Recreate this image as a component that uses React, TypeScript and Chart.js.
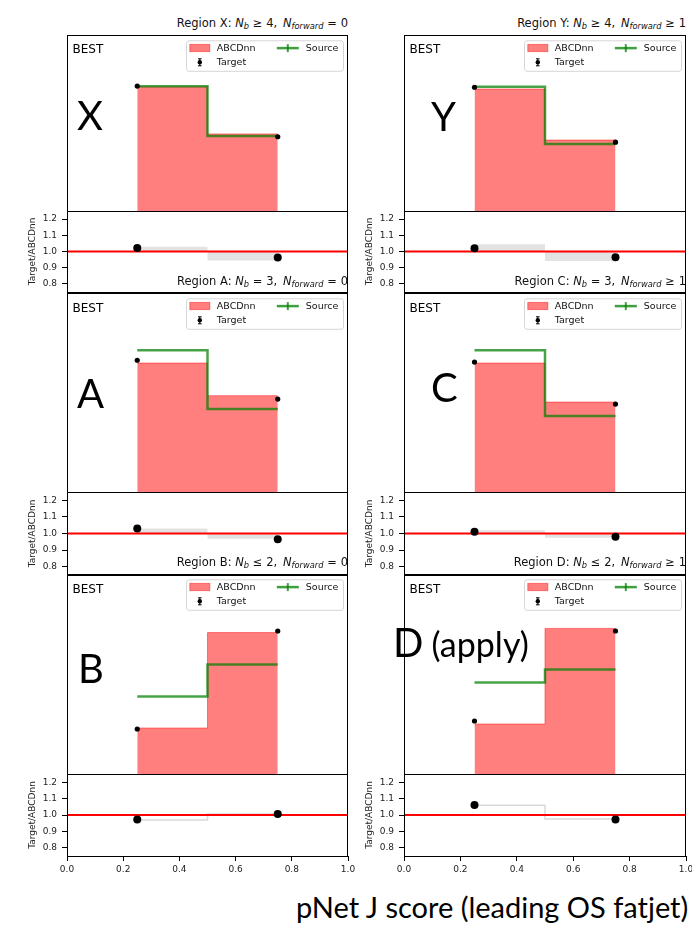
import React, { useEffect, useRef } from 'react';
import { Chart, registerables } from 'chart.js';

Chart.register(...registerables);
Chart.defaults.font.family = '"DejaVu Sans", sans-serif';
Chart.defaults.font.size = 9;

// ---------------- data ----------------
const binEdges = [0.25, 0.5, 0.75];
const pointX = [0.25, 0.75];
const regionLetters = ['X', 'Y', 'A', 'C', 'B', 'D'];
const nbOps = ['\u2265', '\u2265', '=', '=', '\u2264', '\u2264'];
const nbNums = ['4', '4', '3', '3', '2', '2'];
const nfOps = ['=', '\u2265', '=', '\u2265', '=', '\u2265'];
const nfNums = ['0', '1', '0', '1', '0', '1'];
const tagText = 'BEST';
const bigLabels = ['X', 'Y', 'A', 'C', 'B', 'D'];
const applyText = '(apply)';
const xAxisLabel = 'pNet J score (leading OS fatjet)';
const ratioTitle = 'Target/ABCDnn';

// main panel values (normalised to the panel's y range 0..1)
const abcdnnVals = [
  [0.706, 0.438],
  [0.693, 0.403],
  [0.648, 0.484],
  [0.648, 0.452],
  [0.23, 0.707],
  [0.25, 0.728],
];
const sourceVals = [
  [0.709, 0.426],
  [0.706, 0.381],
  [0.712, 0.417],
  [0.712, 0.382],
  [0.387, 0.548],
  [0.457, 0.523],
];
const targetVals = [
  [0.71, 0.422],
  [0.703, 0.391],
  [0.662, 0.467],
  [0.653, 0.442],
  [0.225, 0.715],
  [0.265, 0.715],
];
// ratio panel values
const ratioVals = [
  [1.021, 0.963],
  [1.02, 0.965],
  [1.03, 0.965],
  [1.01, 0.98],
  [0.973, 1.006],
  [1.061, 0.973],
];
const bandVals = [
  [1.03, 0.944],
  [1.045, 0.942],
  [1.03, 0.968],
  [1.02, 0.975],
  [0.969, 1.006],
  [1.059, 0.976],
];
const ratioTicks = [0.8, 0.9, 1.0, 1.1, 1.2];
const xTicks = [0, 0.2, 0.4, 0.6, 0.8, 1.0];

// ---------------- layout ----------------
const COLS = [
  { left: 67, width: 281 },
  { left: 404, width: 282 },
];
const ROWS = [
  { mainTop: 35, mainH: 176, ratioTop: 211, ratioH: 81 },
  { mainTop: 293, mainH: 199, ratioTop: 492, ratioH: 83 },
  { mainTop: 574, mainH: 200, ratioTop: 774, ratioH: 82 },
];
const BIG_POS = [
  { left: 77, base: 130 },
  { left: 431, base: 131 },
  { left: 77, base: 408 },
  { left: 431, base: 402 },
  { left: 78, base: 683 },
  { left: 393, base: 657 },
];

const stepPts = (v: number[]) => [
  { x: binEdges[0], y: v[0] },
  { x: binEdges[1], y: v[1] },
  { x: binEdges[2], y: v[1] },
];

const decorPlugin = {
  id: 'decor',
  afterDatasetsDraw(chart: any, _args: any, opts: any) {
    const { ctx, chartArea: a } = chart;
    ctx.save();
    if (opts && opts.main) {
      const h = a.bottom - a.top;
      ctx.fillStyle = '#000';
      ctx.textAlign = 'left';
      ctx.textBaseline = 'alphabetic';
      ctx.font = '12px "DejaVu Sans"';
      ctx.fillText(opts.tag, a.left + 5.5, a.top + 0.053 * h + 8.8);

      const ds = chart.data.datasets;
      const bw = 157;
      const bh = 30.5;
      const bx = a.right - 4.5 - bw;
      const by = a.top + 5.8;
      ctx.beginPath();
      ctx.roundRect(bx, by, bw, bh, 2.5);
      ctx.fillStyle = 'rgba(255,255,255,0.8)';
      ctx.fill();
      ctx.strokeStyle = '#d6d6d6';
      ctx.lineWidth = 1;
      ctx.stroke();

      // ABCDnn patch
      ctx.fillStyle = 'rgba(255,0,0,0.5)';
      ctx.fillRect(bx + 3.3, by + 3.6, 20, 7.2);
      ctx.strokeStyle = 'rgba(255,0,0,0.45)';
      ctx.strokeRect(bx + 3.3, by + 3.6, 20, 7.2);

      // Source handle
      const sy = by + 7.3;
      ctx.strokeStyle = 'rgba(0,128,0,0.75)';
      ctx.lineWidth = 2.5;
      ctx.beginPath();
      ctx.moveTo(bx + 90.3, sy);
      ctx.lineTo(bx + 112.3, sy);
      ctx.stroke();
      ctx.lineWidth = 2;
      ctx.beginPath();
      ctx.moveTo(bx + 101.3, sy - 4);
      ctx.lineTo(bx + 101.3, sy + 4);
      ctx.stroke();

      // Target handle (errorbar)
      const tx = bx + 13.3;
      const ty = by + 21.5;
      ctx.strokeStyle = '#000';
      ctx.lineWidth = 1;
      ctx.beginPath();
      ctx.moveTo(tx, ty - 3.5);
      ctx.lineTo(tx, ty + 3.5);
      ctx.moveTo(tx - 1.8, ty - 3.5);
      ctx.lineTo(tx + 1.8, ty - 3.5);
      ctx.moveTo(tx - 1.8, ty + 3.5);
      ctx.lineTo(tx + 1.8, ty + 3.5);
      ctx.stroke();
      ctx.fillStyle = '#000';
      ctx.beginPath();
      ctx.arc(tx, ty, 2.2, 0, Math.PI * 2);
      ctx.fill();

      ctx.font = '9.5px "DejaVu Sans"';
      ctx.textBaseline = 'middle';
      ctx.fillStyle = '#111';
      ctx.fillText(ds[2].label, bx + 30.3, sy);
      ctx.fillText(ds[1].label, bx + 119.3, sy);
      ctx.fillText(ds[0].label, bx + 30.3, ty);
    }
    ctx.strokeStyle = '#000';
    ctx.lineWidth = 1;
    ctx.strokeRect(a.left + 0.5, a.top + 0.5, a.right - a.left - 1, a.bottom - a.top);
    ctx.restore();
  },
};

function mainConfig(i: number): any {
  return {
    type: 'line',
    data: {
      datasets: [
        {
          label: 'Target',
          data: pointX.map((x, k) => ({ x, y: targetVals[i][k] })),
          showLine: false,
          pointRadius: 2.6,
          pointHoverRadius: 0,
          pointBackgroundColor: '#000',
          pointBorderWidth: 0,
        },
        {
          label: 'Source',
          data: stepPts(sourceVals[i]),
          stepped: 'before',
          borderColor: 'rgba(0,128,0,0.72)',
          borderWidth: 2.5,
          pointRadius: 0,
          pointHoverRadius: 0,
          fill: false,
        },
        {
          label: 'ABCDnn',
          data: stepPts(abcdnnVals[i]),
          stepped: 'before',
          borderColor: 'rgba(255,0,0,0.45)',
          borderWidth: 1,
          backgroundColor: 'rgba(255,0,0,0.5)',
          fill: 'origin',
          pointRadius: 0,
          pointHoverRadius: 0,
        },
      ],
    },
    options: {
      animation: false,
      responsive: false,
      events: [],
      layout: { autoPadding: false, padding: { left: 2, right: 2, top: 2, bottom: 2 } },
      scales: {
        x: { type: 'linear', min: 0, max: 1, display: false },
        y: { type: 'linear', min: 0, max: 1, display: false },
      },
      plugins: {
        legend: { display: false },
        tooltip: { enabled: false },
        decor: { main: true, tag: tagText },
      },
    },
    plugins: [decorPlugin],
  };
}

function ratioConfig(i: number, bottom: boolean, padR: number): any {
  return {
    type: 'line',
    data: {
      datasets: [
        {
          label: 'ratio',
          data: pointX.map((x, k) => ({ x, y: ratioVals[i][k] })),
          showLine: false,
          pointRadius: 4,
          pointHoverRadius: 0,
          pointBackgroundColor: '#000',
          pointBorderWidth: 0,
        },
        {
          label: 'unity',
          data: [
            { x: 0, y: 1 },
            { x: 1, y: 1 },
          ],
          borderColor: '#ff0000',
          borderWidth: 1.8,
          pointRadius: 0,
          pointHoverRadius: 0,
        },
        {
          label: 'band',
          data: stepPts(bandVals[i]),
          stepped: 'before',
          borderColor: bottom ? '#d9d9d9' : 'rgba(0,0,0,0)',
          borderWidth: bottom ? 1.5 : 0,
          backgroundColor: '#e3e3e3',
          fill: bottom ? false : { value: 1 },
          pointRadius: 0,
          pointHoverRadius: 0,
        },
      ],
    },
    options: {
      animation: false,
      responsive: false,
      events: [],
      layout: { autoPadding: false, padding: { left: 0, right: padR, top: 2, bottom: bottom ? 0 : 2 } },
      scales: {
        x: {
          type: 'linear',
          min: 0,
          max: 1,
          display: bottom,
          afterBuildTicks: (s: any) => {
            s.ticks = xTicks.map((v) => ({ value: v }));
          },
          afterFit: (s: any) => {
            if (bottom) {
              s.height = 22;
            }
            s.paddingLeft = 0;
            s.paddingRight = 0;
          },
          ticks: {
            callback: (v: any) => Number(v).toFixed(1),
            color: '#222',
            font: { size: 9 },
            padding: 3,
            maxRotation: 0,
            autoSkip: false,
          },
          grid: { drawOnChartArea: false, drawTicks: true, tickLength: 5, color: '#000' },
          border: { display: false },
        },
        y: {
          type: 'linear',
          min: 0.75,
          max: 1.25,
          afterBuildTicks: (s: any) => {
            s.ticks = ratioTicks.map((v) => ({ value: v }));
          },
          afterFit: (s: any) => {
            s.width = 50;
            s.paddingTop = 0;
            s.paddingBottom = 0;
          },
          ticks: {
            callback: (v: any) => Number(v).toFixed(1),
            color: '#222',
            font: { size: 9 },
            padding: 5,
            autoSkip: false,
          },
          grid: { drawOnChartArea: false, drawTicks: true, tickLength: 5, color: '#000' },
          border: { display: false },
          title: {
            display: true,
            text: ratioTitle,
            color: '#222',
            font: { size: 9 },
            padding: { top: 10, bottom: 0 },
          },
        },
      },
      plugins: {
        legend: { display: false },
        tooltip: { enabled: false },
        decor: { main: false },
      },
    },
    plugins: [decorPlugin],
  };
}

function ChartCanvas(props: { make: () => any; left: number; top: number; width: number; height: number }) {
  const ref = useRef<HTMLCanvasElement | null>(null);
  useEffect(() => {
    const c = new Chart(ref.current as HTMLCanvasElement, props.make());
    return () => c.destroy();
  }, []);
  return (
    <canvas
      ref={ref}
      width={props.width}
      height={props.height}
      style={{ position: 'absolute', left: props.left, top: props.top, width: props.width, height: props.height }}
    />
  );
}

const subStyle: React.CSSProperties = {
  fontSize: '0.72em',
  fontStyle: 'italic',
  position: 'relative',
  top: '0.28em',
};

export default function App() {
  const items: React.ReactNode[] = [];
  for (let r = 0; r < 3; r++) {
    for (let c = 0; c < 2; c++) {
      const i = r * 2 + c;
      const col = COLS[c];
      const row = ROWS[r];
      const bottom = r === 2;
      const padR = bottom ? 12 : 2;
      items.push(
        <ChartCanvas
          key={'m' + i}
          make={() => mainConfig(i)}
          left={col.left - 2}
          top={row.mainTop - 2}
          width={col.width + 4}
          height={row.mainH + 4}
        />
      );
      items.push(
        <ChartCanvas
          key={'r' + i}
          make={() => ratioConfig(i, bottom, padR)}
          left={col.left - 50}
          top={row.ratioTop - 2}
          width={50 + col.width + padR}
          height={2 + row.ratioH + (bottom ? 22 : 2)}
        />
      );
      const base = row.mainTop - 7.7;
      items.push(
        <div
          key={'t' + i}
          style={{
            position: 'absolute',
            right: 692 - (col.left + col.width),
            top: base - 9.7,
            fontFamily: '"DejaVu Sans", sans-serif',
            fontSize: 11.5,
            lineHeight: '11.5px',
            whiteSpace: 'nowrap',
            color: '#111',
          }}
        >
          {'Region ' + regionLetters[i] + ': '}
          <i>N</i>
          <span style={subStyle}>b</span>
          {'\u2004' + nbOps[i] + '\u2004' + nbNums[i] + ',\u2002'}
          <i>N</i>
          <span style={subStyle}>forward</span>
          {'\u2004' + nfOps[i] + '\u2004' + nfNums[i]}
        </div>
      );
      const bp = BIG_POS[i];
      items.push(
        <div
          key={'b' + i}
          style={{
            position: 'absolute',
            left: bp.left,
            top: bp.base - 0.887 * 40,
            fontFamily: 'Lato, sans-serif',
            fontSize: 40,
            lineHeight: '40px',
            whiteSpace: 'nowrap',
            color: '#000',
          }}
        >
          {bigLabels[i]}
          {i === 5 ? <span style={{ fontSize: 34, marginLeft: 8 }}>{applyText}</span> : null}
        </div>
      );
    }
  }
  return (
    <div
      style={{
        position: 'absolute',
        left: 0,
        top: 0,
        width: 692,
        height: 925,
        overflow: 'hidden',
        background: '#fff',
      }}
    >
      {items}
      <div
        style={{
          position: 'absolute',
          left: 296,
          top: 918 - 0.887 * 29,
          fontFamily: 'Lato, sans-serif',
          fontSize: 29,
          lineHeight: '29px',
          whiteSpace: 'nowrap',
          color: '#000',
        }}
      >
        {xAxisLabel}
      </div>
    </div>
  );
}
